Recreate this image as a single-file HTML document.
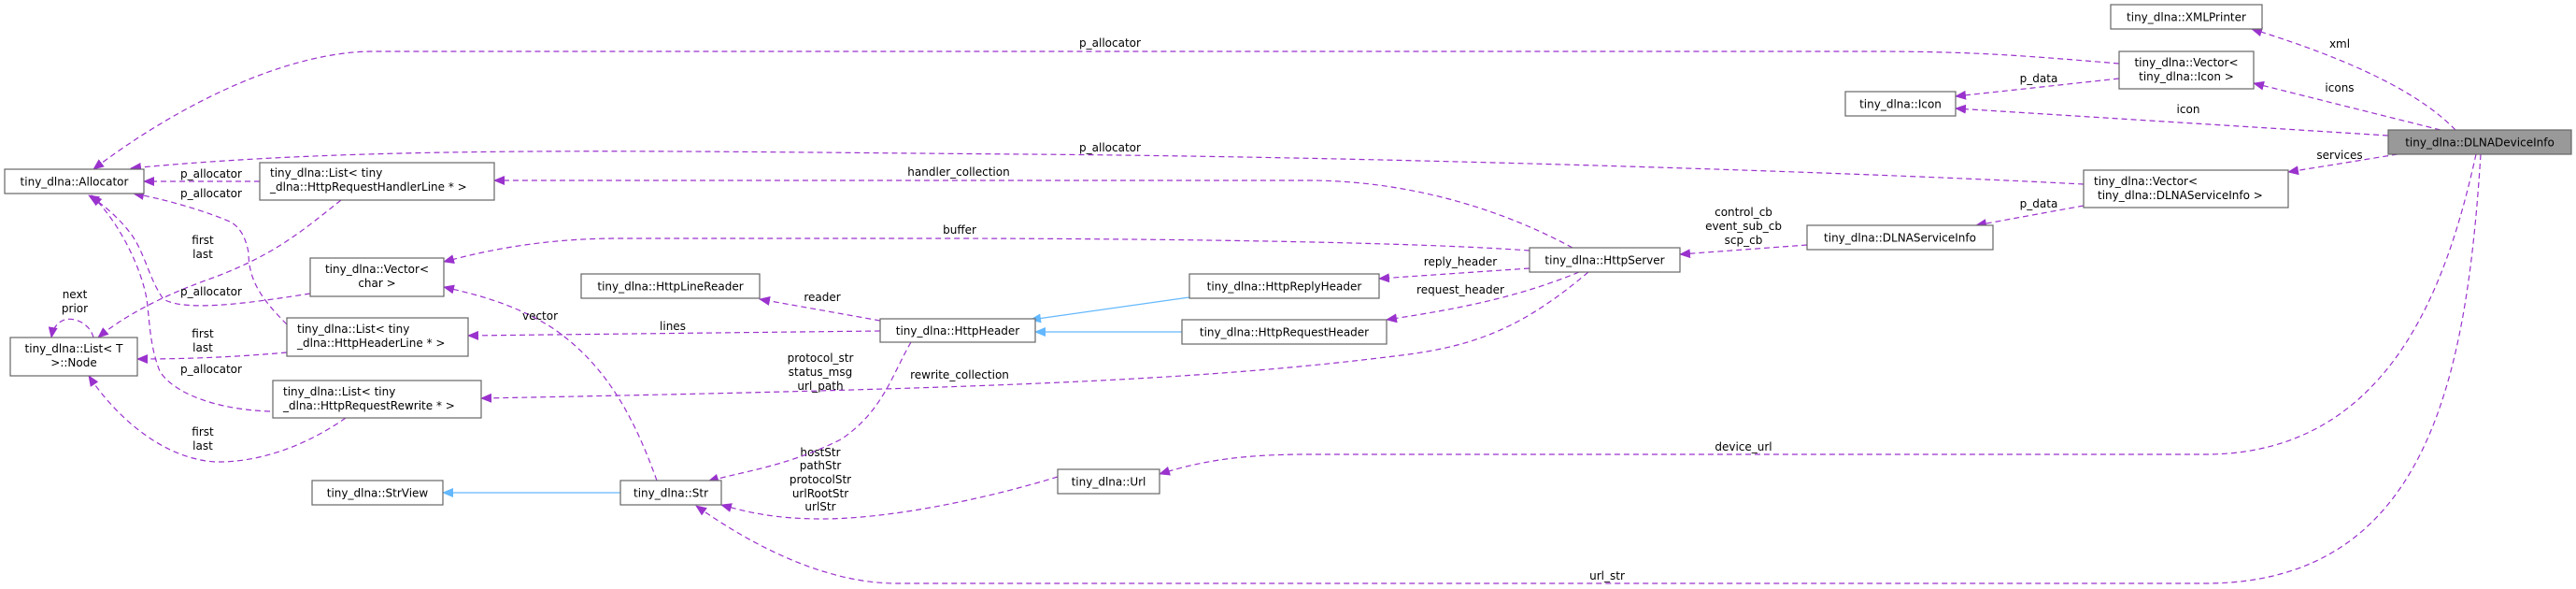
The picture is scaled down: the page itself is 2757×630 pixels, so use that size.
<!DOCTYPE html>
<html><head><meta charset="utf-8"><style>
html,body{margin:0;padding:0;background:#fff}
svg{display:block}
text{font-family:"DejaVu Sans","Liberation Sans",sans-serif;font-size:12px;fill:#000}
.n{fill:#fff;stroke:#666;stroke-width:1.2}
.e{fill:none;stroke:#9a32cd;stroke-width:1.2;stroke-dasharray:6,4}
.b{fill:none;stroke:#63b8ff;stroke-width:1.2}
</style></head><body>
<svg width="2757" height="630" viewBox="0 0 2757 630" xmlns="http://www.w3.org/2000/svg">
<defs>
<marker id="p" markerWidth="12" markerHeight="10" refX="11" refY="5" orient="auto" markerUnits="userSpaceOnUse"><path d="M0,0 L12,5 L0,10 z" fill="#9a32cd"/></marker>
<marker id="bl" markerWidth="12" markerHeight="10" refX="11" refY="5" orient="auto" markerUnits="userSpaceOnUse"><path d="M0,0 L12,5 L0,10 z" fill="#63b8ff"/></marker>
</defs>

<!-- edges -->
<path class="e" marker-end="url(#p)" d="M2268,68 C2150,58 2100,55 2000,55 L400,55 C300,55 180,120 100,181"/>
<text x="1188" y="50" text-anchor="middle">p_allocator</text>
<path class="e" marker-end="url(#p)" d="M2230,197 C2000,185 1500,168 1100,165 C700,162 400,155 140,180"/>
<text x="1188" y="162" text-anchor="middle">p_allocator</text>
<path class="e" marker-end="url(#p)" d="M1683,265 C1600,220 1500,193 1400,193 L529,193"/>
<text x="1026" y="188" text-anchor="middle">handler_collection</text>
<path class="e" marker-end="url(#p)" d="M1637,268 C1500,258 1200,255 1000,255 L663,255 C580,255 520,268 475,280"/>
<text x="1027" y="250" text-anchor="middle">buffer</text>
<path class="e" marker-end="url(#p)" d="M1637,287 L1476,298"/>
<text x="1563" y="284" text-anchor="middle">reply_header</text>
<path class="e" marker-end="url(#p)" d="M1690,291 C1620,320 1550,332 1484,342"/>
<text x="1563" y="314" text-anchor="middle">request_header</text>
<path class="e" marker-end="url(#p)" d="M1700,291 C1630,350 1580,370 1500,380 C1300,405 1100,415 515,426"/>
<text x="1027" y="405" text-anchor="middle">rewrite_collection</text>
<path class="e" marker-end="url(#p)" d="M1934,262 L1798,272"/>
<text x="1866" y="231" text-anchor="middle">control_cb</text>
<text x="1866" y="246" text-anchor="middle">event_sub_cb</text>
<text x="1866" y="261" text-anchor="middle">scp_cb</text>
<path class="e" marker-end="url(#p)" d="M2230,220 L2115,241"/>
<text x="2182" y="222" text-anchor="middle">p_data</text>
<path class="e" marker-end="url(#p)" d="M2566,165 L2449,184"/>
<text x="2504" y="170" text-anchor="middle">services</text>
<path class="e" marker-end="url(#p)" d="M2556,145 L2093,116"/>
<text x="2342" y="121" text-anchor="middle">icon</text>
<path class="e" marker-end="url(#p)" d="M2612,139 L2412,89"/>
<text x="2504" y="98" text-anchor="middle">icons</text>
<path class="e" marker-end="url(#p)" d="M2628,139 C2590,100 2520,65 2410,31"/>
<text x="2504" y="51" text-anchor="middle">xml</text>
<path class="e" marker-end="url(#p)" d="M2268,84 L2093,103"/>
<text x="2182" y="88" text-anchor="middle">p_data</text>
<path class="e" marker-end="url(#p)" d="M2650,165 C2620,300 2560,486 2360,486 L1400,486 C1320,486 1280,495 1241,507"/>
<text x="1866" y="482" text-anchor="middle">device_url</text>
<path class="e" marker-end="url(#p)" d="M2655,165 C2640,400 2600,624 2360,624 L960,624 C880,624 800,580 745,541"/>
<text x="1720" y="620" text-anchor="middle">url_str</text>
<path class="e" marker-end="url(#p)" d="M1132,510 C1050,535 950,555 880,555 C830,555 800,548 772,540"/>
<text x="878" y="488" text-anchor="middle">hostStr</text>
<text x="878" y="502" text-anchor="middle">pathStr</text>
<text x="878" y="517" text-anchor="middle">protocolStr</text>
<text x="878" y="532" text-anchor="middle">urlRootStr</text>
<text x="878" y="546" text-anchor="middle">urlStr</text>
<path class="e" marker-end="url(#p)" d="M975,366 C955,400 945,440 900,470 C840,500 790,505 758,515"/>
<text x="878" y="387" text-anchor="middle">protocol_str</text>
<text x="878" y="402" text-anchor="middle">status_msg</text>
<text x="878" y="417" text-anchor="middle">url_path</text>
<path class="e" marker-end="url(#p)" d="M942,343 L813,320"/>
<text x="880" y="322" text-anchor="middle">reader</text>
<path class="e" marker-end="url(#p)" d="M942,354 L501,359"/>
<text x="720" y="353" text-anchor="middle">lines</text>
<path class="e" marker-end="url(#p)" d="M703,514 C680,450 650,390 590,350 C550,325 510,315 475,307"/>
<text x="578" y="342" text-anchor="middle">vector</text>
<path class="b" marker-end="url(#bl)" d="M1273,318 L1103,342"/>
<path class="b" marker-end="url(#bl)" d="M1265,355 L1108,355"/>
<path class="b" marker-end="url(#bl)" d="M664,527 L474,527"/>
<path class="e" marker-end="url(#p)" d="M278,194 L154,194"/>
<text x="226" y="190" text-anchor="middle">p_allocator</text>
<path class="e" marker-end="url(#p)" d="M365,214 C320,250 290,275 220,300 C170,318 130,340 105,361"/>
<text x="217" y="261" text-anchor="middle">first</text>
<text x="217" y="276" text-anchor="middle">last</text>
<path class="e" marker-end="url(#p)" d="M307,347 C280,320 266,300 266,270 C262,250 255,242 246,237 C210,222 170,212 143,207"/>
<text x="226" y="211" text-anchor="middle">p_allocator</text>
<path class="e" marker-end="url(#p)" d="M307,377 C250,382 200,384 147,384"/>
<text x="217" y="361" text-anchor="middle">first</text>
<text x="217" y="376" text-anchor="middle">last</text>
<path class="e" marker-end="url(#p)" d="M332,314 C280,322 200,335 175,320 C160,300 155,270 140,250 C125,230 105,215 95,209"/>
<text x="226" y="316" text-anchor="middle">p_allocator</text>
<path class="e" marker-end="url(#p)" d="M289,440 C230,438 185,420 171,397 C160,370 160,340 157,320 C152,290 130,240 98,209"/>
<text x="226" y="399" text-anchor="middle">p_allocator</text>
<path class="e" marker-end="url(#p)" d="M370,447 C330,475 280,495 230,494 C170,490 120,440 95,402"/>
<text x="217" y="466" text-anchor="middle">first</text>
<text x="217" y="481" text-anchor="middle">last</text>
<path class="e" marker-end="url(#p)" d="M100,361 C95,340 60,330 55,361"/>
<text x="80" y="319" text-anchor="middle">next</text>
<text x="80" y="334" text-anchor="middle">prior</text>

<!-- nodes -->
<rect class="n" x="5" y="181" width="149" height="26"/><text x="79.5" y="198.5" text-anchor="middle">tiny_dlna::Allocator</text>
<rect class="n" x="278" y="174" width="251" height="40"/><text x="289" y="189">tiny_dlna::List&lt; tiny</text><text x="289" y="204">_dlna::HttpRequestHandlerLine * &gt;</text>
<rect class="n" x="332" y="276" width="143" height="41"/><text x="403.5" y="292" text-anchor="middle">tiny_dlna::Vector&lt;</text><text x="403.5" y="307" text-anchor="middle">char &gt;</text>
<rect class="n" x="622" y="293" width="191" height="26"/><text x="717.5" y="310.5" text-anchor="middle">tiny_dlna::HttpLineReader</text>
<rect class="n" x="307" y="340" width="194" height="41"/><text x="318" y="356">tiny_dlna::List&lt; tiny</text><text x="318" y="371">_dlna::HttpHeaderLine * &gt;</text>
<rect class="n" x="11" y="361" width="136" height="41"/><text x="79" y="377" text-anchor="middle">tiny_dlna::List&lt; T</text><text x="79" y="392" text-anchor="middle">&gt;::Node</text>
<rect class="n" x="292" y="407" width="223" height="40"/><text x="303" y="423">tiny_dlna::List&lt; tiny</text><text x="303" y="438">_dlna::HttpRequestRewrite * &gt;</text>
<rect class="n" x="334" y="514" width="140" height="26"/><text x="404" y="531.5" text-anchor="middle">tiny_dlna::StrView</text>
<rect class="n" x="664" y="514" width="108" height="26"/><text x="718" y="531.5" text-anchor="middle">tiny_dlna::Str</text>
<rect class="n" x="942" y="341" width="166" height="25"/><text x="1025" y="358" text-anchor="middle">tiny_dlna::HttpHeader</text>
<rect class="n" x="1273" y="293" width="203" height="26"/><text x="1374.5" y="310.5" text-anchor="middle">tiny_dlna::HttpReplyHeader</text>
<rect class="n" x="1265" y="342" width="219" height="26"/><text x="1374.5" y="359.5" text-anchor="middle">tiny_dlna::HttpRequestHeader</text>
<rect class="n" x="1637" y="265" width="161" height="26"/><text x="1717.5" y="282.5" text-anchor="middle">tiny_dlna::HttpServer</text>
<rect class="n" x="1132" y="502" width="109" height="26"/><text x="1186.5" y="519.5" text-anchor="middle">tiny_dlna::Url</text>
<rect class="n" x="2259" y="5" width="162" height="26"/><text x="2340" y="22.5" text-anchor="middle">tiny_dlna::XMLPrinter</text>
<rect class="n" x="2268" y="55" width="144" height="40"/><text x="2340" y="71" text-anchor="middle">tiny_dlna::Vector&lt;</text><text x="2340" y="86" text-anchor="middle">tiny_dlna::Icon &gt;</text>
<rect class="n" x="1975" y="98" width="118" height="26"/><text x="2034" y="115.5" text-anchor="middle">tiny_dlna::Icon</text>
<rect x="2556" y="139" width="196" height="26" fill="#999" stroke="#666" stroke-width="1.2"/><text x="2654" y="156.5" text-anchor="middle">tiny_dlna::DLNADeviceInfo</text>
<rect class="n" x="2230" y="182" width="219" height="40"/><text x="2241" y="198">tiny_dlna::Vector&lt;</text><text x="2245" y="213">tiny_dlna::DLNAServiceInfo &gt;</text>
<rect class="n" x="1934" y="241" width="199" height="26"/><text x="2033.5" y="258.5" text-anchor="middle">tiny_dlna::DLNAServiceInfo</text>
</svg>
</body></html>
